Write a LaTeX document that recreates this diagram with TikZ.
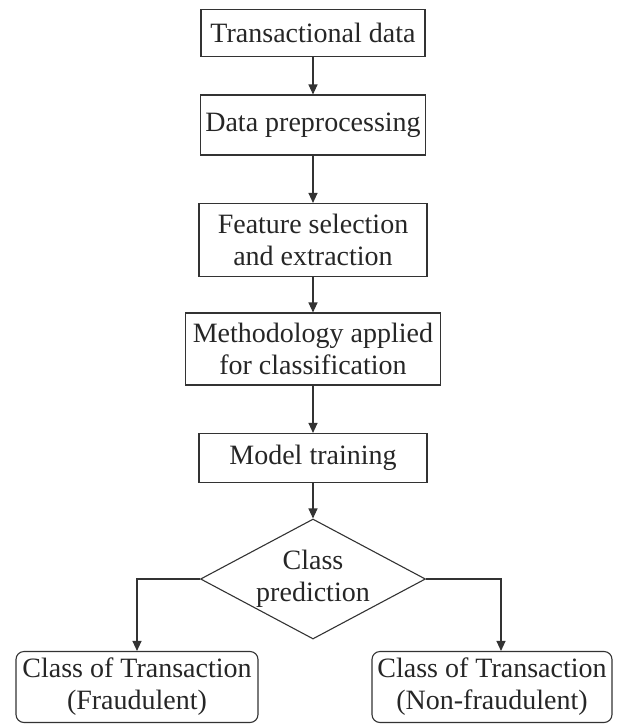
\documentclass[tikz,border=0pt]{standalone}
\usepackage{fontspec}
\setmainfont{Liberation Serif}
\usepackage{tikz}
\usetikzlibrary{shapes.geometric,arrows.meta}
\definecolor{linegray}{rgb}{0.2, 0.2, 0.2}

\begin{document}
\begin{tikzpicture}[x=1pt, y=-1pt,
    every node/.style={font=\fontsize{28}{32}\selectfont, text=black!85, align=center},
    stepbox/.style={draw=linegray, line width=1.1pt, rectangle, inner sep=0pt},
    endbox/.style={stepbox, rounded corners=8pt},
    decision/.style={draw=linegray, line width=1.1pt, diamond, aspect=1.875, inner sep=0pt},
    arr/.style={draw=linegray, line width=1.1pt, -{Triangle[length=10pt,width=9pt]}}]

\useasboundingbox (0,0) rectangle (616,725);

% Boxes
\node[stepbox, minimum width=224pt, minimum height=47pt] (data) at (313,33) {Transactional data};
\node[stepbox, minimum width=225pt, minimum height=60pt] (prep) at (313,125) {Data preprocessing};
\node[stepbox, minimum width=228pt, minimum height=73pt] (feat) at (313,240) {Feature selection\\and extraction};
\node[stepbox, minimum width=255pt, minimum height=72pt] (method) at (313,349) {Methodology applied\\for classification};
\node[stepbox, minimum width=228pt, minimum height=49pt] (train) at (313,458) {Model training};

% Decision
\node[decision, minimum width=225pt, minimum height=120pt] (pred) at (313,579) {Class\\prediction};

% Outcomes
\node[endbox, minimum width=242pt, minimum height=71pt] (fraud) at (137,687) {Class of Transaction\\(Fraudulent)};
\node[endbox, minimum width=240pt, minimum height=71pt] (nonfraud) at (492,687) {Class of Transaction\\(Non-fraudulent)};

% Arrows
\draw[arr] (data) -- (prep);
\draw[arr] (prep) -- (feat);
\draw[arr] (feat) -- (method);
\draw[arr] (method) -- (train);
\draw[arr] (train) -- (pred);
\draw[arr] (pred.west) -| (fraud.north);
\draw[arr] (pred.east) -| ([xshift=9pt]nonfraud.north);

\end{tikzpicture}
\end{document}
